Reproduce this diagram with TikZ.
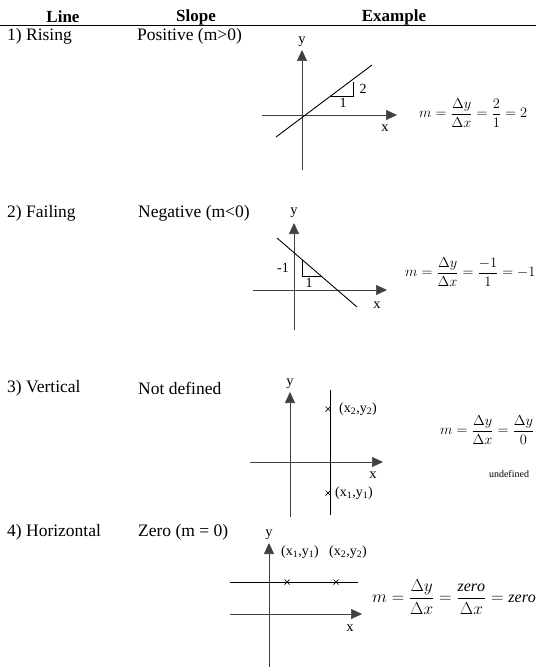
\documentclass[tikz,border=0pt]{standalone}
\usepackage{amsmath}
\usepackage{fontspec}
\setmainfont{Liberation Serif}
\usetikzlibrary{arrows.meta,calc}
\tikzset{
  txt/.style={inner sep=0pt,font=\fontsize{17.5}{20}\selectfont},
  hdr/.style={inner sep=0pt,font=\fontsize{17}{20}\selectfont\bfseries},
  axlab/.style={inner sep=0pt,font=\fontsize{14.5}{17}\selectfont},
  ptlab/.style={inner sep=0pt,font=\fontsize{14}{16}\selectfont},
  eqn/.style={inner sep=0pt,anchor=west,font=\fontsize{15}{18}\selectfont},
  axis/.style={line width=0.7pt,draw=black!75,-{Triangle[length=11pt,width=10pt]}},
  sline/.style={line width=0.9pt,draw=black},
  tri/.style={line width=0.8pt,draw=black},
  crossmark/.style={line width=0.7pt,draw=black}
}
\begin{document}
\begin{tikzpicture}[x=1pt,y=-1pt]
\useasboundingbox (0,0) rectangle (536,669);
% header
\node[hdr] (hline) at (63,17) {Line};
\node[hdr] (hslope) at (196,17) {Slope};
\node[hdr] (hex) at (394,17) {Example};
\coordinate (rl) at (0,25);
\coordinate (rr) at (536,25);
\draw[line width=0.8pt] (rl) -- (rr);

% row labels
\node[txt,anchor=west] (r1a) at (7,36) {1) Rising};
\node[txt,anchor=west] (r1b) at (137,36) {Positive (m>0)};
\node[txt,anchor=west] (r2a) at (7,213) {2) Failing};
\node[txt,anchor=west] (r2b) at (138,213) {Negative (m<0)};
\node[txt,anchor=west] (r3a) at (7,388) {3) Vertical};
\node[txt,anchor=west] (r3b) at (138,388) {Not defined};
\node[txt,anchor=west] (r4a) at (7,532) {4) Horizontal};
\node[txt,anchor=west] (r4b) at (138,532) {Zero (m = 0)};

% ---------- row 1 ----------
\coordinate (y1b) at (302,170); \coordinate (y1t) at (302,50);
\coordinate (x1l) at (262,115); \coordinate (x1r) at (397,115);
\draw[axis] (y1b) -- (y1t);
\draw[axis] (x1l) -- (x1r);
\node[axlab] (ly1) at (302,42) {y};
\node[axlab] (lx1) at (385,128) {x};
\coordinate (L1a) at (276,137); \coordinate (L1b) at (372,65);
\draw[sline] (L1a) -- (L1b);
\coordinate (T1a) at ($(L1a)!0.57!(L1b)$);
\coordinate (T1c) at (353,82);
\draw[tri] (T1a) -- (T1a -| T1c) -- (T1c);
\node[ptlab] (t1v) at (363,89) {2};
\node[ptlab] (t1h) at (343,103) {1};
\node[eqn] (eq1) at (419,113) {$m=\dfrac{\Delta y}{\Delta x}=\dfrac{2}{1}=2$};

% ---------- row 2 ----------
\coordinate (y2b) at (294,330); \coordinate (y2t) at (294,223);
\coordinate (x2l) at (253,290); \coordinate (x2r) at (387,290);
\draw[axis] (y2b) -- (y2t);
\draw[axis] (x2l) -- (x2r);
\node[axlab] (ly2) at (294,213) {y};
\node[axlab] (lx2) at (377,305) {x};
\coordinate (L2a) at (277,238); \coordinate (L2b) at (357,307);
\draw[sline] (L2a) -- (L2b);
\coordinate (T2a) at ($(L2a)!0.3125!(L2b)$);
\coordinate (T2c) at ($(L2a)!0.55!(L2b)$);
\draw[tri] (T2a) -- (T2a |- T2c) -- (T2c);
\node[ptlab] (t2v) at (283,268) {-1};
\node[ptlab] (t2h) at (309,283) {1};
\node[eqn,font=\fontsize{14.5}{17}\selectfont] (eq2) at (405,272) {$m=\dfrac{\Delta y}{\Delta x}=\dfrac{-1}{1}=-1$};

% ---------- row 3 ----------
\coordinate (y3b) at (290,517); \coordinate (y3t) at (290,392);
\coordinate (x3l) at (250,462); \coordinate (x3r) at (383,462);
\draw[axis] (y3b) -- (y3t);
\draw[axis] (x3l) -- (x3r);
\node[axlab] (ly3) at (290,384) {y};
\node[axlab] (lx3) at (373,475) {x};
\coordinate (V3a) at (330,390); \coordinate (V3b) at (330,515);
\draw[sline] (V3a) -- (V3b);
\coordinate (p32) at (328,409); \coordinate (p31) at (328,493);
\draw[crossmark] ($(p32)+(-2.5,-2.5)$) -- ($(p32)+(2.5,2.5)$) ($(p32)+(-2.5,2.5)$) -- ($(p32)+(2.5,-2.5)$);
\draw[crossmark] ($(p31)+(-2.5,-2.5)$) -- ($(p31)+(2.5,2.5)$) ($(p31)+(-2.5,2.5)$) -- ($(p31)+(2.5,-2.5)$);
\node[ptlab,anchor=west] (l32) at (339,409) {(x\textsubscript{2},y\textsubscript{2})};
\node[ptlab,anchor=west] (l31) at (335,493) {(x\textsubscript{1},y\textsubscript{1})};
\node[eqn,font=\fontsize{14}{17}\selectfont] (eq3) at (440,430) {$m=\dfrac{\Delta y}{\Delta x}=\dfrac{\Delta y}{0}$};
\node[inner sep=0pt,font=\fontsize{10}{12}\selectfont] (und) at (509,474) {undefined};

% ---------- row 4 ----------
\coordinate (y4b) at (269,667); \coordinate (y4t) at (269,543);
\coordinate (x4l) at (230,614); \coordinate (x4r) at (362,614);
\draw[axis] (y4b) -- (y4t);
\draw[axis] (x4l) -- (x4r);
\node[axlab] (ly4) at (269,535) {y};
\node[axlab] (lx4) at (350,628) {x};
\coordinate (H4a) at (230,582); \coordinate (H4b) at (358,582);
\draw[sline] (H4a) -- (H4b);
\coordinate (p41) at (287,582); \coordinate (p42) at (336,582);
\draw[crossmark] ($(p41)+(-2.5,-2.5)$) -- ($(p41)+(2.5,2.5)$) ($(p41)+(-2.5,2.5)$) -- ($(p41)+(2.5,-2.5)$);
\draw[crossmark] ($(p42)+(-2.5,-2.5)$) -- ($(p42)+(2.5,2.5)$) ($(p42)+(-2.5,2.5)$) -- ($(p42)+(2.5,-2.5)$);
\node[ptlab] (l41) at (300,552) {(x\textsubscript{1},y\textsubscript{1})};
\node[ptlab] (l42) at (348,552) {(x\textsubscript{2},y\textsubscript{2})};
\node[eqn,font=\fontsize{16}{19}\selectfont] (eq4) at (372,597) {$m=\dfrac{\Delta y}{\Delta x}=\dfrac{\mathit{zero}}{\Delta x}=\mathit{zero}$};
\end{tikzpicture}
\end{document}
